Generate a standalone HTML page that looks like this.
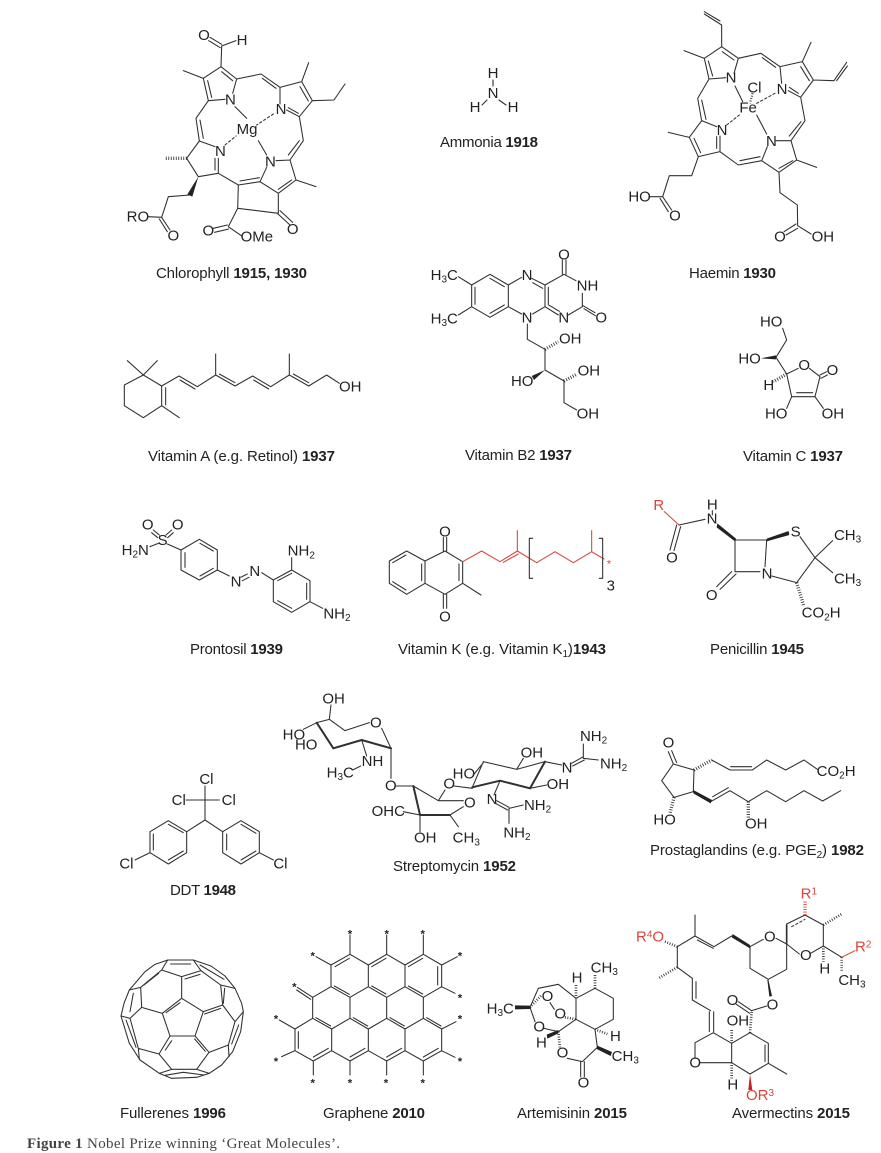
<!DOCTYPE html>
<html><head><meta charset="utf-8"><style>
html,body{margin:0;padding:0;background:#fff;width:881px;height:1153px;overflow:hidden}
svg{display:block;filter:blur(.3px)}
text{font-family:"Liberation Sans",sans-serif;fill:#222}
.m text{font-size:45px}
.m path{fill:none;stroke:#303030;stroke-width:3.2;stroke-linecap:round;stroke-linejoin:round}
.m path.h{stroke-width:10;stroke-dasharray:2.5 5;stroke-linecap:butt}
.m path.d{stroke-dasharray:7 7}
.m path.b{stroke-width:8;stroke-linecap:round}
.m polygon{fill:#222;stroke:none}
.m path.r{stroke:#d8453d}
.m path.h.r{stroke:#d8453d}
.m text.r,.r text{fill:#d8453d}
.m polygon.r{fill:#c8201f}
.m text.s{font-size:34px;text-anchor:middle;font-weight:bold}
.c{font-size:15px}
.f{font-family:"Liberation Serif",serif;font-size:15px;fill:#444}
</style></head><body>
<svg width="881" height="1153" viewBox="0 0 881 1153" xmlns="http://www.w3.org/2000/svg">
<rect width="881" height="1153" fill="#fff"/>

<!-- Chlorophyll -->
<g class="m" transform="translate(110,10) scale(.33333)">
<path d="M300 82L335 103M296 92L331 113M335 108L378 92M335 108L333 170L280 205L295 272L345 268M333 170L380 207L368 250M335 185L368 212M280 205L220 182M293 212L305 262M295 272L258 325L268 393L315 410M270 330L280 385M380 207L453 192L510 232L510 282M457 205L498 235M510 232L575 215L607 272L568 320L530 300M535 293L565 310M570 230L595 273M575 215L596 158M607 272L672 270L705 222M568 320L580 392L540 450L498 452M568 392L535 435M540 450L558 510L505 550L450 515L470 472M558 510L618 530M545 510L505 538M450 515L385 525L325 490L325 445M448 503L390 513M315 480L315 445M385 525L383 595L505 610L505 550M383 595L355 650L395 678M502 610L540 645M510 602L548 637M352 645L310 655M356 657L314 667M268 393L230 445L265 500L325 490M240 555L175 560L155 622L115 620M155 622L180 660M148 627L172 665M375 290L410 325M445 392L470 435"/>
<path class="d" d="M490 312L440 345M345 405L378 378"/>
<path class="h" d="M230 445L165 445"/>
<polygon points="265,500 232,553 247,560"/>
<text x="282" y="90" text-anchor="middle">O</text><text x="380" y="105">H</text>
<text x="345" y="283">N</text><text x="497" y="312">N</text><text x="315" y="438">N</text><text x="465" y="470">N</text>
<text x="380" y="372">Mg</text>
<text x="50" y="635">RO</text><text x="190" y="692" text-anchor="middle">O</text>
<text x="295" y="677" text-anchor="middle">O</text><text x="392" y="695">OMe</text><text x="548" y="672" text-anchor="middle">O</text>
</g>

<!-- Ammonia -->
<g class="m" transform="translate(440,60)" >
<path d="M53 20L53 26M47 40L42 45M59 40L66 45" style="stroke-width:1.1"/>
<text x="53" y="18" text-anchor="middle" style="font-size:15px">H</text>
<text x="53" y="38" text-anchor="middle" style="font-size:15px">N</text>
<text x="35" y="52" text-anchor="middle" style="font-size:15px">H</text>
<text x="73" y="52" text-anchor="middle" style="font-size:15px">H</text>
</g>

<!-- Haemin -->
<g class="m" transform="translate(610,10) scale(.33333)">
<path d="M335 45L283 12M330 33L283 5M335 110L335 45M335 110L283 145L297 207L347 203M335 110L385 145L372 190M337 125L372 150M283 145L222 122M295 153L308 198M385 145L453 130L510 170L515 220M457 143L497 172M510 170L577 155L610 210L572 262L535 242M572 170L598 212M577 155L603 97M610 210L672 212L710 157M680 212L712 168M565 250L538 232M572 262L585 332L543 392L498 392M573 335L538 378M543 392L560 450L507 487L455 452L472 410M548 452L507 475M560 450L620 472M507 487L510 548L562 585L563 647M563 647L603 672M558 642L522 665M563 655L528 675M455 452L385 465L330 425L330 378M450 440L390 452M320 380L320 415M330 425L265 440L238 382L275 332L320 350M252 385L272 428M275 332L263 265L297 207M288 328L275 270M238 382L175 367M265 440L245 497L178 497L158 560L118 560M158 560L185 600M150 565L175 605M375 228L398 275M440 315L470 372"/>
<path class="d" d="M495 250L440 280M350 345L388 315"/>
<path class="h" d="M428 250L420 280" style="stroke-width:7"/>
<text x="347" y="218">N</text><text x="500" y="252">N</text><text x="320" y="375">N</text><text x="468" y="408">N</text>
<text x="388" y="308">Fe</text><text x="412" y="247">Cl</text>
<text x="55" y="575">HO</text><text x="195" y="632" text-anchor="middle">O</text>
<text x="510" y="695" text-anchor="middle">O</text><text x="605" y="695">OH</text>
</g>

<!-- Vitamin A -->
<g class="m" transform="translate(100,240) scale(.33333)">
<path d="M130 405L185 438L185 497L130 533L73 497L73 435L130 405M130 405L82 362M130 405L172 362M185 497L238 533M197 443L197 495M185 438L237 408L292 440L347 405L405 438L458 408L512 440L568 405L626 438L680 405L718 430M240 420L285 447M347 405L347 342M358 402L405 428M461 420L506 447M568 405L568 342M580 402L626 428"/>
<text x="717" y="455">OH</text>
</g>

<!-- Vitamin B2 and C -->
<g class="m" transform="translate(410,240) scale(.33333)">
<path d="M240 103L295 135L295 200L240 232L185 200L185 135Z M240 115L283 140M195 142L195 193M240 220L283 195M185 135L145 110M185 200L145 225M295 135L335 112M365 115L405 135L405 200L368 222M368 128L398 145M415 142L415 195M295 200L335 222M405 135L462 103L498 122M457 103L457 60M468 103L468 60M517 160L517 200L475 225M517 196L555 218M522 206L556 227M405 200L445 225M418 196L448 214M352 252L352 298L405 328L405 390L462 423L462 488L500 510"/>
<path class="h" d="M405 328L445 305M462 423L500 403"/>
<polygon points="405,390 365,408 372,420"/>
<text x="62" y="120">H<tspan font-size="30" dy="8">3</tspan><tspan dy="-8">C</tspan></text>
<text x="62" y="250">H<tspan font-size="30" dy="8">3</tspan><tspan dy="-8">C</tspan></text>
<text x="335" y="120">N</text><text x="335" y="248">N</text><text x="462" y="58" text-anchor="middle">O</text>
<text x="500" y="152">NH</text><text x="445" y="248">N</text><text x="556" y="248">O</text>
<text x="447" y="310">OH</text><text x="503" y="407">OH</text><text x="303" y="438">HO</text><text x="500" y="535">OH</text>
<!-- Vitamin C -->
<path d="M1118 265L1130 300L1098 352L1130 402L1165 385M1198 385L1230 410L1215 470L1145 470L1130 402M1160 458L1208 458M1230 405L1250 395M1233 415L1252 405M1145 470L1130 505M1215 470L1240 505"/>
<polygon points="1098,346 1098,358 1052,355"/>
<path class="h" d="M1130 402L1090 425"/>
<text x="1050" y="260">HO</text><text x="985" y="370">HO</text><text x="1165" y="390">O</text><text x="1250" y="405">O</text>
<text x="1060" y="450">H</text><text x="1065" y="535">HO</text><text x="1235" y="535">OH</text>
</g>

<!-- Prontosil, Vitamin K -->
<g class="m" transform="translate(110,490) scale(.33333)">
<path d="M130 120L148 135M125 128L143 143M185 120L168 135M190 128L173 143M120 170L145 160M172 162L213 180M213 180L268 148L322 180L322 240L268 270L213 240ZM270 160L310 183M225 188L225 232M270 258L310 235M322 240L358 258M392 262L412 252M397 272L417 262M455 248L490 270M490 270L545 240L600 272L600 335L545 367L490 335ZM503 272L545 250M590 280L590 328M503 332L545 355M545 240L545 203M600 335L638 355"/>
<text x="113" y="118" text-anchor="middle">O</text><text x="203" y="118" text-anchor="middle">O</text><text x="158" y="165" text-anchor="middle">S</text>
<text x="35" y="195">H<tspan font-size="30" dy="8">2</tspan><tspan dy="-8">N</tspan></text>
<text x="362" y="290">N</text><text x="418" y="258">N</text>
<text x="533" y="197">NH<tspan font-size="30" dy="8">2</tspan></text>
<text x="640" y="385">NH<tspan font-size="30" dy="8">2</tspan></text>
<path d="M945 213L945 280L890 313L838 280L838 213L890 183ZM848 218L888 195M935 222L935 272M848 275L888 300M945 213L1005 183L1058 215L1058 280L1005 313L945 280M1047 222L1047 272M1000 183L1000 142M1010 183L1010 142M1000 313L1000 355M1010 313L1010 355M1058 280L1113 315"/>
<path class="r" d="M1058 215L1115 183L1170 215L1222 183L1222 122M1180 217L1225 192M1222 183L1280 218L1335 185L1390 218L1445 185L1445 122M1445 185L1482 207"/>
<path d="M1268 145L1258 145L1258 265L1268 265M1468 145L1478 145L1478 265L1468 265"/>
<text x="1005" y="140" text-anchor="middle">O</text><text x="1005" y="395" text-anchor="middle">O</text>
<text x="1497" y="232" class="r" style="font-size:34px;text-anchor:middle">*</text>
<text x="1490" y="302">3</text>
</g>

<!-- Penicillin -->
<g class="m" transform="translate(610,490) scale(.33333)">
<path class="r" d="M163 65L207 105"/>
<path d="M207 105L285 88M307 62L307 75M200 105L180 180M212 110L192 182M375 150L470 150L465 230M375 150L375 245L450 245M570 140L615 203L668 152M615 203L668 248M615 203L560 278L485 258M365 245L320 290M378 252L330 298"/>
<polygon points="322,100 320,112 375,154 378,146"/>
<polygon points="470,146 470,154 538,135 536,123"/>
<path class="h" d="M560 278L582 350"/>
<text x="130" y="60" class="r">R</text>
<text x="307" y="58" text-anchor="middle">H</text><text x="290" y="100">N</text><text x="186" y="218" text-anchor="middle">O</text>
<text x="455" y="265">N</text><text x="542" y="140">S</text>
<text x="672" y="150">CH<tspan font-size="30" dy="8">3</tspan></text><text x="672" y="280">CH<tspan font-size="30" dy="8">3</tspan></text>
<text x="305" y="330" text-anchor="middle">O</text>
<text x="575" y="383">CO<tspan font-size="30" dy="8">2</tspan><tspan dy="-8">H</tspan></text>
</g>

<!-- Streptomycin -->
<g class="m" transform="translate(270,680) scale(.33333)">
<path d="M183 75L178 118L225 152L298 128M335 145L363 205L363 295M140 128L178 118M140 128L100 148M275 180L290 228M248 270L272 258M378 318L430 318L505 362L580 362M580 380L540 405M450 405L400 395M450 405L450 455M540 405L565 440M505 362L525 330M552 318L607 325M607 322L640 245L740 268L825 245M610 285L640 248M740 268L760 235M825 245L875 255M905 250L940 230M908 258L943 240M940 235L940 192M940 235L985 240M780 325L830 315M690 302L672 345M680 362L717 382M676 370L713 390M717 385L760 375M717 385L717 430"/>
<path class="b" d="M363 205L275 180L190 205M190 205L140 128M540 405L450 405M450 405L430 318M780 325L690 302L607 322M825 245L780 325" style="stroke-width:6"/>
<text x="157" y="70">OH</text><text x="300" y="143">O</text><text x="38" y="178">HO</text><text x="75" y="208">HO</text>
<text x="275" y="258">NH</text><text x="170" y="292">H<tspan font-size="30" dy="8">3</tspan><tspan dy="-8">C</tspan></text>
<text x="345" y="332">O</text><text x="520" y="325">O</text><text x="582" y="382">O</text>
<text x="305" y="408">OHC</text><text x="432" y="488">OH</text><text x="548" y="488">CH<tspan font-size="30" dy="8">3</tspan></text>
<text x="548" y="295">HO</text><text x="752" y="232">OH</text><text x="875" y="278">N</text>
<text x="930" y="183">NH<tspan font-size="30" dy="8">2</tspan></text><text x="990" y="265">NH<tspan font-size="30" dy="8">2</tspan></text>
<text x="830" y="327">OH</text><text x="650" y="372">N</text>
<text x="762" y="390">NH<tspan font-size="30" dy="8">2</tspan></text><text x="700" y="472">NH<tspan font-size="30" dy="8">2</tspan></text>
</g>

<!-- DDT -->
<g class="m" transform="translate(100,720) scale(.33333)">
<path d="M315 198L315 300M258 240L358 240M315 300L260 335L205 302L150 335L150 398L205 432L260 398L260 335M205 313L250 338M160 342L160 390M205 420L250 393M150 398L105 420M315 300L368 335L423 302L478 335L478 398L423 432L368 398L368 335M380 342L380 390M423 313L468 340M423 420L468 393M478 398L520 420"/>
<text x="298" y="192">Cl</text><text x="215" y="255">Cl</text><text x="365" y="255">Cl</text><text x="58" y="445">Cl</text><text x="520" y="445">Cl</text>
</g>

<!-- Prostaglandin -->
<g class="m" transform="translate(620,720) scale(.33333)">
<path d="M145 95L160 132M155 92L170 128M160 132L222 150L220 215L162 232L125 182L160 132M275 120L330 150L397 150L440 120L497 150L552 120L592 148M332 140L395 140M272 245L330 212L385 245L440 212L497 245L552 212L608 243L662 212M278 230L325 203"/>
<path class="h" d="M222 150L275 120M385 245L385 295M162 232L150 280"/>
<polygon points="220,210 220,220 272,250 276,240"/>
<text x="128" y="83">O</text><text x="590" y="168">CO<tspan font-size="30" dy="8">2</tspan><tspan dy="-8">H</tspan></text>
<text x="375" y="325">OH</text><text x="100" y="313">HO</text>
</g>

<!-- Fullerene and Graphene -->
<g class="m" transform="translate(100,910) scale(.33333)">
<path d="M203 150L280 150L333 168L375 198L405 235L425 280L430 305L422 365L398 425L365 465L328 490L290 502L215 505L178 490L120 450L88 400L63 318L72 280L88 240L135 185L165 163Z"/>
<path d="M245 265L310 305L285 378L210 378L187 310ZM245 265L245 200L185 180L203 150M245 200L303 182L280 150M187 310L125 292L122 232L185 180M310 305L368 285L362 225L303 182M285 378L327 427L290 478M210 378L177 432L215 478M215 478L290 478M215 478L178 490M290 478L328 490M195 496L250 487L312 495M125 292L90 325L115 415L177 432M122 232L88 240M90 325L63 318M115 415L118 448M368 285L405 335L385 405L327 427M362 225L405 235M405 335L430 305M385 405L387 440M212 162L272 162M255 207L300 193M132 225L176 190M198 308L240 278M314 312L362 295M196 420L215 392M284 387L316 424M100 250L90 305M78 330L108 412M416 345L395 402M374 235L370 280M300 165L372 208"/>
<!-- graphene -->
<path d="M693 165L750 133L805 165L860 133L915 165L970 133L1025 165L1025 230L970 262L915 230L860 262L805 230L750 262L693 230ZM805 165L805 230M915 165L915 230M693 230L638 262L638 325L585 357L585 422L640 453L695 422L750 453L805 422L860 453L915 422L970 453L1025 422L1025 357L970 325L970 262M750 262L750 325M860 262L860 325M638 325L695 357L750 325L805 357L860 325L915 357L970 325M695 357L695 422M805 357L805 422M915 357L915 422M705 170L748 145M815 170L858 145M925 170L968 145M1013 170L1013 225M703 228L748 253M815 228L858 252M925 228L968 252M648 323L692 348M760 323L803 348M870 323L913 348M980 323L1023 348M595 365L595 415M640 441L685 415M750 441L795 415M860 441L905 415M970 441L1015 415M750 133L750 75M860 133L860 75M970 133L970 75M693 165L648 140M1025 165L1072 140M1025 230L1065 250M638 262L592 232M632 268L590 240M585 357L538 330M585 422L545 440M640 453L640 495M750 453L750 495M860 453L860 495M970 453L970 495M1025 357L1068 335M1025 422L1065 442"/>
<g><text class="s" x="750" y="82">*</text><text class="s" x="860" y="82">*</text><text class="s" x="968" y="82">*</text><text class="s" x="638" y="148">*</text><text class="s" x="1080" y="148">*</text><text class="s" x="1080" y="275">*</text><text class="s" x="583" y="242">*</text><text class="s" x="528" y="338">*</text><text class="s" x="528" y="465">*</text><text class="s" x="638" y="530">*</text><text class="s" x="750" y="530">*</text><text class="s" x="858" y="530">*</text><text class="s" x="968" y="530">*</text><text class="s" x="1080" y="338">*</text><text class="s" x="1080" y="465">*</text></g>
</g>

<!-- Artemisinin -->
<g class="m" transform="translate(470,930) scale(.33333)">
<path d="M375 175L430 205L430 268L375 298L318 268L318 205L375 175M318 205L265 163L205 175L180 232L195 275M240 218L253 238M222 295L265 305L318 268M292 385L337 395L382 352L375 298M332 395L332 440M343 395L343 440"/>
<path class="h" d="M375 175L375 130M318 205L318 165M285 262L318 268M180 232L215 195M265 305L270 355M375 298L412 312" style="stroke-width:8"/>
<polygon points="180,227 180,237 135,238 135,226"/>
<polygon points="265,300 265,310 232,326 230,314"/>
<polygon points="382,347 380,357 422,378 426,366"/>
<text x="362" y="127">CH<tspan font-size="30" dy="8">3</tspan></text><text x="305" y="158">H</text>
<text x="50" y="250">H<tspan font-size="30" dy="8">3</tspan><tspan dy="-8">C</tspan></text>
<text x="215" y="213">O</text><text x="253" y="265">O</text><text x="190" y="305">O</text><text x="198" y="352">H</text><text x="260" y="383">O</text>
<text x="323" y="472">O</text><text x="425" y="393">CH<tspan font-size="30" dy="8">3</tspan></text><text x="420" y="333">H</text>
</g>

<!-- Avermectin -->
<g class="m" transform="translate(620,880) scale(.33333)">
<path d="M555 105L610 135L610 198L572 220M610 198L665 232M500 132L555 105M500 192L468 175M500 192L538 222M500 192L500 268L445 298L390 265L390 200L430 178M335 168L282 200L225 168L225 105M232 180L280 205M225 168L172 200L172 262M172 262L217 295L217 360L272 392M228 305L228 355M268 395L268 455M281 395L281 455M280 458L225 488L225 535M240 548L335 548M280 458L335 490L335 548M335 490L390 458L445 490L445 550L390 582L335 548M435 495L435 545M445 550L500 582M395 392L355 365M389 400L349 373M395 392L440 378"/>
<path class="b" d="M500 135L500 192" style="stroke-width:5"/>
<path class="r" d="M665 232L705 212"/>
<path class="d r" d="M515 140L555 118" style="stroke:#333"/>
<path class="h r" d="M555 105L555 62"/>
<path class="h" d="M610 135L665 102M610 198L610 245M665 232L665 275M172 262L115 295M335 548L335 595M335 490L335 445M390 458L395 395" style="stroke-width:8"/>
<path class="h r" d="M172 200L135 185" style="stroke-width:8;stroke:#333"/>
<polygon points="390,195 390,205 335,172 338,162"/>
<polygon points="445,298 442,300 448,350 456,348"/>
<polygon class="r" points="390,582 385,630 397,630"/>
<text x="542" y="55" class="r">R<tspan font-size="30" dy="-12">1</tspan></text>
<text x="705" y="215" class="r">R<tspan font-size="30" dy="-12">2</tspan></text>
<text x="48" y="185" class="r">R<tspan font-size="30" dy="-12">4</tspan><tspan dy="12">O</tspan></text>
<text x="378" y="660" class="r">OR<tspan font-size="30" dy="-12">3</tspan></text>
<text x="540" y="240">O</text><text x="432" y="185">O</text><text x="598" y="280">H</text>
<text x="655" y="315">CH<tspan font-size="30" dy="8">3</tspan></text>
<text x="440" y="388">O</text><text x="320" y="375">O</text>
<text x="320" y="437">OH</text><text x="208" y="562">O</text><text x="322" y="628">H</text>
</g>

<!-- Captions -->
<text class="c" x="156" y="278" textLength="151">Chlorophyll <tspan font-weight="bold">1915, 1930</tspan></text>
<text class="c" x="440" y="147" textLength="98">Ammonia <tspan font-weight="bold">1918</tspan></text>
<text class="c" x="689" y="278" textLength="87">Haemin <tspan font-weight="bold">1930</tspan></text>
<text class="c" x="148" y="461" textLength="187">Vitamin A (e.g. Retinol) <tspan font-weight="bold">1937</tspan></text>
<text class="c" x="465" y="460" textLength="107">Vitamin B2 <tspan font-weight="bold">1937</tspan></text>
<text class="c" x="743" y="461" textLength="100">Vitamin C <tspan font-weight="bold">1937</tspan></text>
<text class="c" x="190" y="654" textLength="93">Prontosil <tspan font-weight="bold">1939</tspan></text>
<text class="c" x="398" y="654" textLength="208">Vitamin K (e.g. Vitamin K<tspan font-size="10" dy="3">1</tspan><tspan dy="-3">)</tspan><tspan font-weight="bold">1943</tspan></text>
<text class="c" x="710" y="654" textLength="94">Penicillin <tspan font-weight="bold">1945</tspan></text>
<text class="c" x="393" y="871" textLength="123">Streptomycin <tspan font-weight="bold">1952</tspan></text>
<text class="c" x="170" y="895" textLength="66">DDT <tspan font-weight="bold">1948</tspan></text>
<text class="c" x="650" y="855" textLength="214">Prostaglandins (e.g. PGE<tspan font-size="10" dy="3">2</tspan><tspan dy="-3">) </tspan><tspan font-weight="bold">1982</tspan></text>
<text class="c" x="120" y="1118" textLength="106">Fullerenes <tspan font-weight="bold">1996</tspan></text>
<text class="c" x="323" y="1118" textLength="102">Graphene <tspan font-weight="bold">2010</tspan></text>
<text class="c" x="517" y="1118" textLength="110">Artemisinin <tspan font-weight="bold">2015</tspan></text>
<text class="c" x="732" y="1118" textLength="118">Avermectins <tspan font-weight="bold">2015</tspan></text>
<text class="f" x="27" y="1148" textLength="313"><tspan font-weight="bold">Figure 1</tspan>  Nobel Prize winning ‘Great Molecules’.</text>
</svg>
</body></html>
